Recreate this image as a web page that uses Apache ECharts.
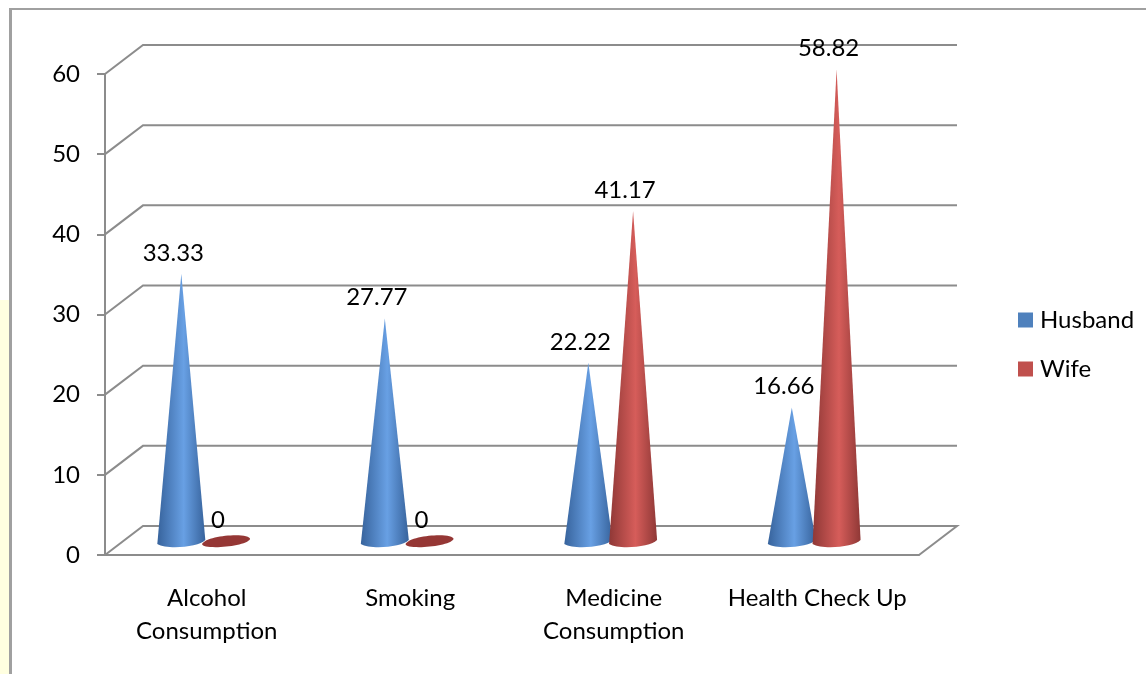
<!DOCTYPE html>
<html>
<head>
<meta charset="utf-8">
<style>
html, body { margin: 0; padding: 0; background: #fff; }
#echart { width: 1146px; height: 674px; }
</style>
<script src="https://cdn.jsdelivr.net/npm/echarts@6/dist/echarts.min.js"></script>
</head>
<body>
<div id="echart"></div>
<script>
var categories = ['Alcohol\nConsumption', 'Smoking', 'Medicine\nConsumption', 'Health Check Up'];
var husband = [33.33, 27.77, 22.22, 16.66];
var wife = [0, 0, 41.17, 58.82];
var yTicks = [0, 10, 20, 30, 40, 50, 60];

var fontName = 'Lato';
var fontSize = 24;
var depthX = 38, depthY = 29;   // offset of back wall
var floorX = 19, floorY = 14;   // where the cones stand

function coneItem(color, edge, mid, zeroColor, shift) {
    return function (params, api) {
        var val = api.value(1);
        var band = api.size([1, 0])[0];
        var top = api.coord([api.value(0), val]);
        var cx = top[0] + band * shift;
        var ay = top[1] - floorY;
        var by = api.coord([0, 0])[1] - floorY;
        var r = 24;
        var shape;
        var fill;
        if (val === 0) {
            shape = 'M' + (cx - r) + ' ' + (by + 3) + 'C' + (cx - r + 4) + ' ' + (by - 6) + ' ' + (cx + r) + ' ' + (by - 9) + ' ' + (cx + r) + ' ' + (by - 2)
                + 'C' + (cx + r - 4) + ' ' + (by + 6) + ' ' + (cx - r) + ' ' + (by + 9) + ' ' + (cx - r) + ' ' + (by + 3) + 'Z';
            fill = zeroColor;
        } else {
            shape = 'M' + cx + ' ' + ay + 'L' + (cx + r) + ' ' + (by - 1)
                + 'C' + (cx + r - 6) + ' ' + (by + 6) + ' ' + (cx - r + 10) + ' ' + (by + 9) + ' ' + (cx - r) + ' ' + (by + 3) + 'Z';
            fill = new echarts.graphic.LinearGradient(0, 0, 1, 0, [
                { offset: 0, color: edge },
                { offset: 0.55, color: mid },
                { offset: 1, color: edge }
            ]);
        }
        return {
            type: 'group',
            children: [{
                type: 'path',
                shape: { pathData: shape },
                style: { fill: fill }
            }, {
                type: 'text',
                style: {
                    text: String(val),
                    x: cx - 8,
                    y: ay - 21,
                    align: 'center',
                    verticalAlign: 'middle',
                    fill: '#000',
                    font: fontSize + 'px ' + fontName
                }
            }]
        };
    };
}

function wallItem(params, api) {
    var y = api.coord([0, api.value(1)])[1];
    var left = params.coordSys.x;
    var right = left + params.coordSys.width;
    var pts = [[left, y], [left + depthX, y - depthY], [right + depthX, y - depthY]];
    if (api.value(1) === 0) {
        pts.push([right, y]);
    }
    return {
        type: 'polyline',
        shape: { points: pts },
        style: { fill: null, stroke: '#8c8c8c', lineWidth: 2 }
    };
}

var option = {
    backgroundColor: '#fff',
    animation: false,
    textStyle: { fontFamily: fontName },
    graphic: [
        { type: 'rect', silent: true, shape: { x: 0, y: 300, width: 9, height: 374 }, style: { fill: '#ffffe0' } },
        { type: 'line', silent: true, shape: { x1: 10.5, y1: 8, x2: 10.5, y2: 674 }, style: { stroke: '#a0a0a0', lineWidth: 3 } },
        { type: 'line', silent: true, shape: { x1: 9, y1: 9, x2: 1146, y2: 9 }, style: { stroke: '#a0a0a0', lineWidth: 2 } }
    ],
    legend: {
        data: ['Husband', 'Wife'],
        orient: 'vertical',
        left: 1018,
        top: 308,
        padding: 0,
        icon: 'rect',
        itemWidth: 15,
        itemHeight: 15,
        itemGap: 25,
        selectedMode: false,
        textStyle: { fontSize: fontSize, fontFamily: fontName, color: '#000', padding: [0, 0, 0, 2] }
    },
    grid: { left: 105, right: 227, top: 74, bottom: 119 },
    xAxis: {
        type: 'category',
        data: categories,
        axisLine: { lineStyle: { color: '#8c8c8c', width: 2 } },
        axisTick: { length: 8, lineStyle: { color: '#8c8c8c', width: 2 } },
        axisLabel: { color: '#000', fontSize: fontSize, fontFamily: fontName, lineHeight: 33, margin: 27, interval: 0 }
    },
    yAxis: {
        type: 'value',
        min: 0,
        max: 60,
        interval: 10,
        splitLine: { show: false },
        axisLine: { show: true, lineStyle: { color: '#8c8c8c', width: 2 } },
        axisTick: { show: true, length: 8, lineStyle: { color: '#8c8c8c', width: 2 } },
        axisLabel: { color: '#000', fontSize: fontSize, fontFamily: fontName, margin: 25, padding: [2, 0, 0, 0] }
    },
    series: [{
        name: 'wall',
        type: 'custom',
        clip: false,
        silent: true,
        z: 1,
        renderItem: wallItem,
        encode: { x: 0, y: 1 },
        data: yTicks.map(function (t) { return [0, t]; })
    }, {
        name: 'Husband',
        type: 'custom',
        clip: false,
        z: 3,
        itemStyle: { color: '#4f81bd' },
        renderItem: coneItem('#4f81bd', '#37639c', '#68a0e4', '#2f5a8f', -0.125),
        encode: { x: 0, y: 1 },
        data: husband.map(function (v, i) { return [i, v]; })
    }, {
        name: 'Wife',
        type: 'custom',
        clip: false,
        z: 4,
        itemStyle: { color: '#c0504d' },
        renderItem: coneItem('#c0504d', '#8f3836', '#d65d5a', '#953735', 0.095),
        encode: { x: 0, y: 1 },
        data: wife.map(function (v, i) { return [i, v]; })
    }]
};

var myChart = echarts.init(document.getElementById('echart'));
myChart.setOption(option);
</script>
</body>
</html>
